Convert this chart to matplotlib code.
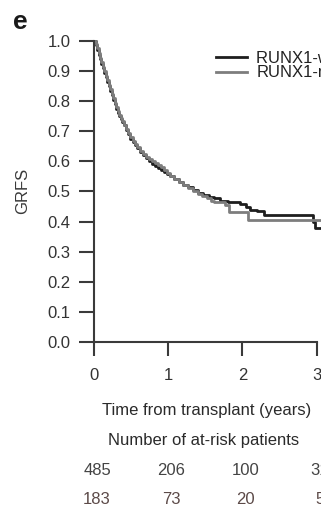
import numpy as np
import matplotlib
matplotlib.use("Agg")
import matplotlib.pyplot as plt
import matplotlib.transforms as mtransforms

plt.rcParams['font.family'] = ['Liberation Sans', 'DejaVu Sans']

## the data (step curves)
neg_t = [0, 0.02, 0.04, 0.06, 0.08, 0.10, 0.12, 0.14, 0.16, 0.18, 0.20, 0.22,
         0.24, 0.26, 0.28, 0.30, 0.32, 0.34, 0.36, 0.38, 0.40, 0.43, 0.46, 0.49,
         0.52, 0.55, 0.58, 0.62, 0.66, 0.70, 0.74, 0.78, 0.82, 0.86, 0.90, 0.94,
         0.98, 1.02, 1.08, 1.14, 1.20, 1.26, 1.33, 1.40, 1.47, 1.55, 1.61, 1.70,
         1.80, 1.97, 2.05, 2.10, 2.20, 2.29, 2.95, 2.98, 3.15]
neg_s = [1.0, 0.985, 0.97, 0.955, 0.94, 0.925, 0.91, 0.895, 0.88, 0.865, 0.85, 0.835,
         0.82, 0.805, 0.79, 0.775, 0.76, 0.75, 0.74, 0.73, 0.72, 0.705, 0.69, 0.675,
         0.665, 0.655, 0.645, 0.632, 0.62, 0.61, 0.60, 0.592, 0.585, 0.578, 0.572, 0.565,
         0.558, 0.55, 0.54, 0.53, 0.522, 0.515, 0.505, 0.495, 0.488, 0.483, 0.478, 0.47,
         0.465, 0.458, 0.45, 0.44, 0.435, 0.422, 0.40, 0.38, 0.38]

pos_t = [0, 0.02, 0.04, 0.06, 0.08, 0.10, 0.12, 0.14, 0.16, 0.18, 0.20, 0.22,
         0.24, 0.26, 0.28, 0.30, 0.32, 0.34, 0.36, 0.38, 0.40, 0.43, 0.46, 0.49,
         0.52, 0.55, 0.58, 0.62, 0.66, 0.70, 0.74, 0.78, 0.82, 0.86, 0.90, 0.94,
         0.98, 1.03, 1.08, 1.14, 1.20, 1.27, 1.33, 1.40, 1.46, 1.52, 1.58, 1.61,
         1.77, 1.82, 2.08, 3.15]
pos_s = [1.0, 0.99, 0.975, 0.96, 0.945, 0.93, 0.915, 0.90, 0.885, 0.87, 0.855, 0.84,
         0.825, 0.81, 0.795, 0.78, 0.768, 0.755, 0.745, 0.735, 0.722, 0.708, 0.695, 0.68,
         0.668, 0.657, 0.648, 0.636, 0.625, 0.615, 0.607, 0.60, 0.594, 0.588, 0.58, 0.572,
         0.562, 0.55, 0.54, 0.53, 0.52, 0.51, 0.50, 0.492, 0.485, 0.478, 0.47, 0.465,
         0.455, 0.432, 0.405, 0.405]

groups = ['RUNX1-wild type', 'RUNX1-mutated']
risk_times = [0, 1, 2, 3]
risk_neg = [485, 206, 100, 31]
risk_pos = [183, 73, 20, 5]

fig = plt.figure(figsize=(3.21, 5.12), dpi=100)
ax = fig.add_axes([0.293, 0.332, 0.712, 0.588])

l1, = ax.plot(neg_t, neg_s, drawstyle='steps-post', color='#1e1e1e', lw=2.0,
              clip_on=False)
l2, = ax.plot(pos_t, pos_s, drawstyle='steps-post', color='#7d7d7d', lw=2.0,
              clip_on=False)

# axes and labels
ax.set_xlim(0, 3.08)
ax.set_ylim(0, 1.0)
for s in ['top', 'right']:
    ax.spines[s].set_visible(False)
ax.spines['left'].set_bounds(0, 1)
ax.spines['bottom'].set_bounds(0, 3)
for s in ['left', 'bottom']:
    ax.spines[s].set_linewidth(1.5)
    ax.spines[s].set_color('#3a3a3a')

ax.set_yticks(np.arange(0, 1.01, 0.1))
ax.set_yticklabels(['%.1f' % v for v in np.arange(0, 1.01, 0.1)])
ax.set_xticks(risk_times)
ax.tick_params(axis='both', width=1.5, color='#3a3a3a',
               labelsize=12, labelcolor='#333333')
ax.tick_params(axis='y', length=11, pad=6)
ax.tick_params(axis='x', length=10, pad=9)

fig.text(0.07, 0.627, 'GRFS', rotation=90, ha='center', va='center',
         fontsize=12, color='#3a3a3a')
fig.text(0.062, 0.957, 'e', ha='center', va='center', fontsize=19,
         fontweight='bold', color='#1a1a1a')

ax.legend((l1, l2), groups, loc='upper left', bbox_to_anchor=(0.535, 0.966),
          frameon=False, fontsize=12, handlelength=1.85, handletextpad=0.55,
          labelspacing=-0.05, borderpad=0, borderaxespad=0, labelcolor='#222222')

fig.text(0.645, 0.198, 'Time from transplant (years)', ha='center', va='center',
         fontsize=12, color='#2a2a2a')
fig.text(0.635, 0.140, 'Number of at-risk patients', ha='center', va='center',
         fontsize=12, color='#2a2a2a')

trans = mtransforms.blended_transform_factory(ax.transData, fig.transFigure)
for t, n1, n2 in zip(risk_times, risk_neg, risk_pos):
    ax.text(t + 0.04, 0.082, str(n1), transform=trans, ha='center', va='center',
            fontsize=12, color='#444444', clip_on=False)
    ax.text(t + 0.04, 0.024, str(n2), transform=trans, ha='center', va='center',
            fontsize=12, color='#5c4a48', clip_on=False)

fig.savefig('out.png', dpi=100)
